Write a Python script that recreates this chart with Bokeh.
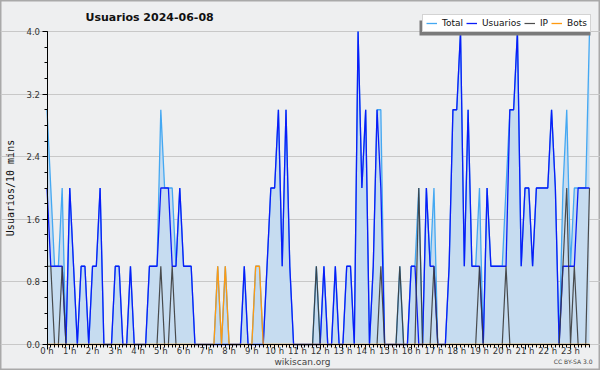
from bokeh.plotting import figure
from bokeh.models import (Range1d, FixedTicker, Legend, LegendItem, Label,
                          ColumnDataSource, PrintfTickFormatter, BoxAnnotation)
from bokeh.embed import file_html
from bokeh.resources import INLINE

# ---------------- data (10-minute slots, 2024-06-08) ----------------
hour_labels = [f"{h} h" for h in range(24)]
y_ticks = [0.0, 0.8, 1.6, 2.4, 3.2, 4.0]

total = [3, 2, 1, 1, 2, 0, 2, 1, 0, 1, 1, 0, 1, 1, 2, 0, 0, 0, 1, 1, 0, 0, 1, 0,
         0, 0, 0, 1, 1, 1, 3, 2, 2, 2, 1, 2, 1, 1, 1, 0, 0, 0, 0, 0, 0, 1, 0, 1,
         0, 0, 0, 0, 1, 0, 0, 1, 1, 0, 1, 2, 2, 3, 1, 3, 1, 0, 0, 0, 0, 0, 0, 1,
         0, 1, 0, 0, 1, 0, 0, 1, 1, 0, 4, 2, 3, 0, 1, 3, 3, 0, 0, 0, 0, 1, 0, 0,
         1, 1, 2, 0, 2, 1, 2, 0, 0, 0, 1, 3, 3, 4, 1, 3, 1, 1, 2, 0, 2, 1, 1, 1,
         1, 2, 3, 3, 4, 1, 2, 2, 1, 2, 2, 2, 2, 3, 2, 0, 2, 3, 1, 2, 2, 2, 2, 4]

usuarios = [2, 1, 1, 1, 1, 0, 2, 1, 0, 1, 1, 0, 1, 1, 2, 0, 0, 0, 1, 1, 0, 0, 1, 0,
            0, 0, 0, 1, 1, 1, 2, 2, 2, 1, 1, 2, 1, 1, 1, 0, 0, 0, 0, 0, 0, 0, 0, 0,
            0, 0, 0, 0, 1, 0, 0, 0, 0, 0, 1, 2, 2, 3, 1, 3, 1, 0, 0, 0, 0, 0, 0, 0,
            0, 1, 0, 0, 1, 0, 0, 1, 1, 0, 4, 2, 3, 0, 1, 3, 2, 0, 0, 0, 0, 0, 0, 0,
            1, 1, 0, 0, 2, 1, 1, 0, 0, 0, 1, 3, 3, 4, 1, 3, 1, 1, 1, 0, 2, 1, 1, 1,
            1, 1, 3, 3, 4, 1, 2, 2, 1, 2, 2, 2, 2, 3, 2, 0, 1, 1, 1, 1, 2, 2, 2, 2]

ip = [1, 1, 0, 0, 1, 0, 0, 0, 0, 0, 0, 0, 0, 0, 0, 0, 0, 0, 0, 0, 0, 0, 0, 0,
      0, 0, 0, 0, 0, 0, 1, 0, 0, 1, 0, 0, 0, 0, 0, 0, 0, 0, 0, 0, 0, 0, 0, 0,
      0, 0, 0, 0, 0, 0, 0, 0, 0, 0, 0, 0, 0, 0, 0, 0, 0, 0, 0, 0, 0, 0, 0, 1,
      0, 0, 0, 0, 0, 0, 0, 0, 0, 0, 0, 0, 0, 0, 0, 0, 1, 0, 0, 0, 0, 1, 0, 0,
      0, 0, 2, 0, 0, 0, 1, 0, 0, 0, 0, 0, 0, 0, 0, 0, 0, 0, 1, 0, 0, 0, 0, 0,
      0, 1, 0, 0, 0, 0, 0, 0, 0, 0, 0, 0, 0, 0, 0, 0, 1, 2, 0, 1, 0, 0, 0, 2]

bots = [0, 0, 0, 0, 0, 0, 0, 0, 0, 0, 0, 0, 0, 0, 0, 0, 0, 0, 0, 0, 0, 0, 0, 0,
        0, 0, 0, 0, 0, 0, 0, 0, 0, 0, 0, 0, 0, 0, 0, 0, 0, 0, 0, 0, 0, 1, 0, 1,
        0, 0, 0, 0, 0, 0, 0, 1, 1, 0, 0, 0, 0, 0, 0, 0, 0, 0, 0, 0, 0, 0, 0, 0,
        0, 0, 0, 0, 0, 0, 0, 0, 0, 0, 0, 0, 0, 0, 0, 0, 0, 0, 0, 0, 0, 0, 0, 0,
        0, 0, 0, 0, 0, 0, 0, 0, 0, 0, 0, 0, 0, 0, 0, 0, 0, 0, 0, 0, 0, 0, 0, 0,
        0, 0, 0, 0, 0, 0, 0, 0, 0, 0, 0, 0, 0, 0, 0, 0, 0, 0, 0, 0, 0, 0, 0, 0]

slots = list(range(len(total)))
src = ColumnDataSource(dict(x=slots, total=total, usuarios=usuarios, ip=ip,
                            bots=bots, zero=[0] * len(slots)))

FONT = "DejaVu Sans"

# ---------------- geometry: the frame covers the whole canvas ----------------
W, H = 600, 370
LEFT, RIGHT, TOP, BOTTOM = 46.5, 589.0, 31.0, 344.0     # plot-area pixels
X_LAST, Y_MAX = len(slots) - 1, y_ticks[-1]
sx = (RIGHT - LEFT) / X_LAST
sy = (BOTTOM - TOP) / Y_MAX

def dx(px):   # canvas pixel -> data x
    return (px - LEFT) / sx

def dy(py):   # canvas pixel -> data y
    return (BOTTOM - py) / sy

p = figure(width=W, height=H, output_backend="svg", toolbar_location=None,
           x_range=Range1d(dx(0), dx(W)), y_range=Range1d(dy(H), dy(0)),
           min_border=0, min_border_left=0, min_border_right=0,
           min_border_top=0, min_border_bottom=0,
           background_fill_color="#eeeff0", border_fill_color="#eeeff0",
           outline_line_color="#a9a9a9", outline_line_width=2)

# area + lines
p.varea(x="x", y1="zero", y2="total", source=src, fill_color="#c6dcf0")
r_total = p.line("x", "total", source=src, line_color="#44a8f2", line_width=1.3)
r_usu = p.line("x", "usuarios", source=src, line_color="#0a1cf8", line_width=1.3)
r_ip = p.line("x", "ip", source=src, line_color="#3a3a3a", line_width=1.2, line_alpha=0.9)
r_bots = p.line("x", "bots", source=src, line_color="#ff9a10", line_width=1.3)

# axes, placed at the data origin inside the (full-canvas) frame
p.xaxis.fixed_location = 0
p.yaxis.fixed_location = 0
p.xaxis.bounds = (0, X_LAST)
p.yaxis.bounds = (0, Y_MAX)
p.xaxis.ticker = FixedTicker(ticks=[6 * h for h in range(24)], minor_ticks=slots)
p.xaxis.major_label_overrides = {6 * h: hour_labels[h] for h in range(24)}
p.yaxis.ticker = FixedTicker(ticks=y_ticks,
                             minor_ticks=[round(0.2 * k, 1) for k in range(21)])
p.yaxis.formatter = PrintfTickFormatter(format="%.1f")
p.yaxis.axis_label = "Usuarios/10 mins"
p.yaxis.axis_label_text_font = "DejaVu Sans Mono"
p.yaxis.axis_label_text_font_size = "10px"
p.yaxis.axis_label_text_font_style = "normal"
p.yaxis.axis_label_text_color = "#111111"
p.yaxis.axis_label_standoff = 8

for ax in (p.xaxis, p.yaxis):
    ax.axis_line_color = "black"
    ax.axis_line_width = 1
    ax.major_tick_line_color = "black"
    ax.minor_tick_line_color = "black"
    ax.major_tick_out = 5
    ax.major_tick_in = 0
    ax.minor_tick_out = 3
    ax.minor_tick_in = 0
    ax.major_label_text_font = FONT
    ax.major_label_text_font_size = "8.5px"
    ax.major_label_text_color = "#333333"
p.xaxis.major_label_standoff = -4
p.yaxis.major_label_standoff = 2

p.xgrid.visible = False
p.ygrid.grid_line_color = "#c8c8c8"
p.ygrid.grid_line_width = 1
p.ygrid.bounds = (0, X_LAST)

# title
p.add_layout(Label(x=dx(85), y=dy(17), text="Usuarios  2024-06-08",
                   text_align="left", text_baseline="middle", text_font=FONT,
                   text_font_size="11px", text_font_style="bold",
                   text_color="#111111"))

# legend shadow (dark box offset to the lower left of the legend)
p.add_layout(BoxAnnotation(left=dx(419), right=dx(590), top=dy(20), bottom=dy(35),
                           fill_color="#7a7a7a", fill_alpha=1, line_color=None))

legend = Legend(items=[LegendItem(label="Total", renderers=[r_total]),
                       LegendItem(label="Usuarios", renderers=[r_usu]),
                       LegendItem(label="IP", renderers=[r_ip]),
                       LegendItem(label="Bots", renderers=[r_bots])],
                location=(422, H - 32), orientation="horizontal",
                border_line_color="#a8a8a8", border_line_width=1,
                background_fill_color="white", background_fill_alpha=1,
                label_text_font=FONT, label_text_font_size="9px",
                label_text_color="#111111", glyph_width=11, glyph_height=8,
                label_standoff=5, spacing=3, padding=3, margin=0,
                label_height=9, label_width=5)
p.add_layout(legend)

# footer texts
p.add_layout(Label(x=dx(302), y=dy(361), text="wikiscan.org",
                   text_align="center", text_baseline="middle",
                   text_font=FONT, text_font_size="9px", text_color="#444444"))
p.add_layout(Label(x=dx(592), y=dy(361), text="CC BY-SA 3.0",
                   text_align="right", text_baseline="middle",
                   text_font=FONT, text_font_size="6px", text_color="#444444"))

open("out.html", "w").write(file_html(p, INLINE))
